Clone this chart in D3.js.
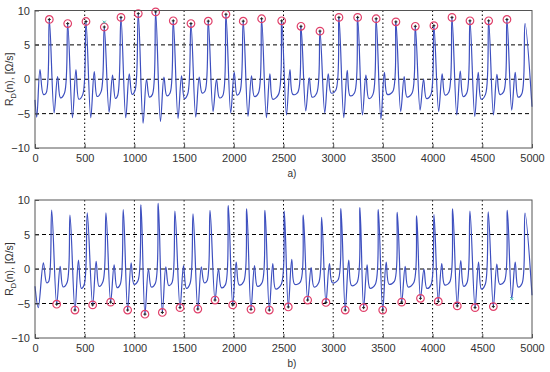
<!DOCTYPE html>
<meta charset="utf-8">
<head>
    <style>
        body { margin: 0; background: #fff; }
        text { font-family: "Liberation Sans", Arial, sans-serif; fill: #333; }
        .grid line { stroke: #000; stroke-width: 1; }
        .axis path, .axis line { stroke: #555; }
    </style>
</head>
<body>
    <svg width="550" height="372"></svg>
</body>
<script src="https://d3js.org/d3.v7.min.js"></script>
<script>

    // sample range and tick labels
    var xTicks = [0, 500, 1000, 1500, 2000, 2500, 3000, 3500, 4000, 4500, 5000];
    var yTicks = [-10, -5, 0, 5, 10];
    var xGrid = [500, 1000, 1500, 2000, 2500, 3000, 3500, 4000, 4500];
    var yGrid = [-5, 0, 5];

    // key points of the top trace (sample, value)
    var topTrace = [
        [0, -3.0], [18, -5.5], [50, 1.4], [84, -2.2], [112, -2.0],
        [144, 8.7], [192, -4.9], [227, 0.4], [256, -2.7], [297, -2.0],
        [329, 8.1], [377, -5.6], [412, 1.4], [441, -2.9], [481, -2.2],
        [513, 8.4], [561, -5.6], [596, 1.1], [625, -2.5], [665, -1.8],
        [697, 7.6], [745, -4.8], [780, 0.6], [809, -2.8], [833, -2.3],
        [865, 9.0], [913, -5.6], [948, 0.8], [977, -2.2], [1007, -1.6],
        [1039, 9.55], [1087, -6.4], [1122, 0.0], [1151, -2.6], [1182, -2.2],
        [1214, 9.8], [1262, -6.15], [1297, 0.3], [1326, -2.4], [1359, -2.0],
        [1391, 8.5], [1439, -5.7], [1474, 0.5], [1503, -2.8], [1537, -2.1],
        [1569, 8.1], [1617, -5.5], [1652, 0.3], [1681, -2.0], [1711, -1.7],
        [1743, 8.45], [1791, -4.7], [1826, 0.0], [1855, -2.7], [1889, -2.4],
        [1921, 9.45], [1969, -4.9], [2004, 1.0], [2033, -2.3], [2063, -1.8],
        [2095, 8.45], [2143, -5.4], [2178, 0.5], [2207, -2.5], [2248, -2.0],
        [2280, 8.8], [2328, -5.6], [2363, 0.8], [2392, -2.9], [2450, -2.2],
        [2482, 8.5], [2530, -5.2], [2565, 1.4], [2594, -2.2], [2644, -1.9],
        [2676, 7.7], [2724, -4.6], [2759, 0.2], [2788, -2.6], [2835, -2.0],
        [2867, 7.0], [2915, -4.9], [2950, 0.8], [2979, -2.0], [3026, -1.6],
        [3058, 9.0], [3106, -5.6], [3141, 1.3], [3170, -2.4], [3214, -2.0],
        [3246, 9.0], [3294, -5.2], [3329, 0.6], [3358, -2.8], [3400, -2.2],
        [3432, 8.8], [3480, -5.8], [3515, 1.0], [3544, -2.2], [3599, -1.8],
        [3631, 8.35], [3679, -4.7], [3714, 0.4], [3743, -2.6], [3794, -2.0],
        [3826, 7.7], [3874, -4.5], [3909, 0.0], [3938, -2.8], [3981, -2.3],
        [4013, 7.8], [4061, -4.7], [4096, 0.8], [4125, -2.3], [4163, -1.9],
        [4195, 9.0], [4243, -5.2], [4278, 1.2], [4307, -2.5], [4344, -2.0],
        [4376, 8.5], [4424, -5.4], [4459, 1.0], [4488, -2.9], [4532, -2.2],
        [4564, 8.5], [4612, -5.2], [4647, 0.7], [4676, -2.2], [4716, -1.8],
        [4748, 8.7], [4796, -4.5], [4831, 1.0], [4860, -2.6], [4898, -2.1],
        [4930, 8.1], [5000, -4.0]
    ];

    // detected maxima (circled)
    var topMarks = [
        [144, 8.7], [329, 8.1], [513, 8.4], [697, 7.6], [865, 9.0], [1039, 9.55],
        [1214, 9.8], [1391, 8.5], [1569, 8.1], [1743, 8.45], [1921, 9.45], [2095, 8.45],
        [2280, 8.8], [2482, 8.5], [2676, 7.7], [2867, 7.0], [3058, 9.0], [3246, 9.0],
        [3432, 8.8], [3631, 8.35], [3826, 7.7], [4013, 7.8], [4195, 9.0], [4376, 8.5],
        [4564, 8.5], [4748, 8.7]
    ];
    var topOther = [[697, 8.3]];

    // key points of the bottom trace
    var bottomTrace = [
        [0, -2.5], [33, -5.6], [84, 0.9], [117, -2.0], [138, -1.8],
        [168, 8.55], [218, -5.1], [253, 0.4], [282, -2.6], [322, -2.0],
        [352, 7.8], [402, -5.95], [437, 1.3], [466, -2.8], [496, -2.2],
        [526, 8.15], [580, -5.2], [615, 1.1], [644, -2.5], [684, -1.8],
        [714, 8.15], [761, -4.8], [796, 0.6], [825, -2.7], [858, -2.2],
        [888, 8.6], [932, -5.95], [967, 0.9], [996, -2.2], [1036, -1.7],
        [1066, 9.3], [1106, -6.55], [1141, 0.0], [1170, -2.6], [1210, -2.1],
        [1240, 9.5], [1281, -6.3], [1316, 0.3], [1345, -2.4], [1378, -2.0],
        [1408, 8.4], [1459, -5.6], [1494, 0.5], [1523, -2.8], [1560, -2.1],
        [1590, 8.0], [1638, -5.8], [1673, 0.3], [1702, -2.0], [1731, -1.7],
        [1761, 8.5], [1811, -4.5], [1846, 0.0], [1875, -2.7], [1915, -2.3],
        [1945, 9.2], [1989, -5.2], [2024, 1.0], [2053, -2.3], [2100, -1.8],
        [2130, 8.7], [2173, -5.85], [2208, 0.5], [2237, -2.5], [2284, -2.0],
        [2314, 8.5], [2357, -5.95], [2392, 0.8], [2421, -2.9], [2478, -2.2],
        [2508, 8.4], [2548, -5.5], [2583, 1.4], [2612, -2.2], [2669, -1.9],
        [2699, 7.8], [2743, -4.5], [2778, 0.2], [2807, -2.6], [2854, -2.0],
        [2884, 7.5], [2927, -4.85], [2962, 0.8], [2991, -2.0], [3048, -1.6],
        [3078, 8.75], [3121, -5.95], [3156, 1.3], [3185, -2.4], [3239, -2.0],
        [3269, 8.9], [3306, -5.6], [3341, 0.6], [3370, -2.8], [3424, -2.2],
        [3454, 8.6], [3498, -5.95], [3533, 1.0], [3562, -2.2], [3615, -1.8],
        [3645, 8.2], [3689, -4.8], [3724, 0.4], [3753, -2.6], [3810, -2.0],
        [3840, 7.7], [3878, -4.25], [3913, 0.0], [3942, -2.8], [3984, -2.3],
        [4014, 7.9], [4057, -4.7], [4092, 0.8], [4121, -2.3], [4172, -1.9],
        [4202, 8.7], [4248, -5.35], [4283, 1.2], [4312, -2.5], [4346, -2.0],
        [4376, 8.4], [4427, -5.6], [4462, 1.0], [4491, -2.9], [4530, -2.2],
        [4560, 8.3], [4611, -5.45], [4646, 0.7], [4675, -2.2], [4722, -1.8],
        [4752, 8.5], [4796, -4.3], [4831, 1.0], [4860, -2.6], [4900, -2.1],
        [4930, 8.1], [5000, -3.8]
    ];

    // detected minima (circled)
    var bottomMarks = [
        [218, -5.1], [402, -5.95], [580, -5.2], [761, -4.8], [932, -5.95], [1106, -6.55],
        [1281, -6.3], [1459, -5.6], [1638, -5.8], [1811, -4.5], [1989, -5.2], [2173, -5.85],
        [2357, -5.95], [2548, -5.5], [2743, -4.5], [2927, -4.85], [3121, -5.95], [3306, -5.6],
        [3498, -5.95], [3689, -4.8], [3878, -4.25], [4057, -4.7], [4248, -5.35], [4427, -5.6],
        [4611, -5.45]
    ];
    var bottomOther = [[4796, -4.3]];

    var svg = d3.select("svg");

    var x = d3.scaleLinear().domain([0, 5000]).range([35, 532]);

    function drawPanel(top, bottom, trace, marks, other, sub, caption) {
        var y = d3.scaleLinear().domain([-10, 10]).range([bottom, top]);
        var g = svg.append("g");

        var grid = g.append("g").attr("class", "grid");
        grid.selectAll(".h").data(yGrid).enter().append("line")
            .attr("x1", x(0)).attr("x2", x(5000))
            .attr("y1", function (d) { return y(d); })
            .attr("y2", function (d) { return y(d); })
            .attr("stroke-dasharray", "4,3");
        grid.selectAll(".v").data(xGrid).enter().append("line")
            .attr("x1", function (d) { return x(d); })
            .attr("x2", function (d) { return x(d); })
            .attr("y1", top).attr("y2", bottom)
            .attr("stroke-dasharray", "1.5,2.5");

        var line = d3.line()
            .x(function (d) { return x(d[0]); })
            .y(function (d) { return y(d[1]); })
            .curve(d3.curveCatmullRom.alpha(0.5));

        g.append("path")
            .datum(trace)
            .attr("d", line)
            .attr("fill", "none")
            .attr("stroke", "#3d4fbf")
            .attr("stroke-width", 1.2);

        var m = g.append("g").selectAll("g")
            .data(marks).enter().append("g")
            .attr("transform", function (d) { return "translate(" + x(d[0]) + "," + y(d[1]) + ")"; });
        m.append("circle")
            .attr("r", 3.8)
            .attr("fill", "none")
            .attr("stroke", "#e0406a")
            .attr("stroke-width", 1.2);
        m.append("path")
            .attr("d", "M-1.5,0H1.5M0,-1.5V1.5")
            .attr("stroke", "#222")
            .attr("stroke-width", 1);

        g.append("g").selectAll("path")
            .data(other).enter().append("path")
            .attr("transform", function (d) { return "translate(" + x(d[0]) + "," + y(d[1]) + ")"; })
            .attr("d", "M-1.5,-1.5L1.5,1.5M-1.5,1.5L1.5,-1.5")
            .attr("stroke", "#3cb8b0")
            .attr("stroke-width", 1);

        // box
        g.append("rect")
            .attr("x", x(0)).attr("y", top)
            .attr("width", x(5000) - x(0)).attr("height", bottom - top)
            .attr("fill", "none").attr("stroke", "#555");

        var xAxis = g.append("g").attr("class", "axis")
            .attr("transform", "translate(0," + bottom + ")")
            .call(d3.axisBottom(x).tickValues(xTicks).tickFormat(d3.format("d")).tickSize(-4).tickPadding(6));
        xAxis.select(".domain").remove();
        xAxis.selectAll("text").attr("font-size", 11).attr("fill", "#333");

        var yAxis = g.append("g").attr("class", "axis")
            .attr("transform", "translate(" + x(0) + ",0)")
            .call(d3.axisLeft(y).tickValues(yTicks).tickFormat(d3.format("d")).tickSize(-4).tickPadding(5));
        yAxis.select(".domain").remove();
        yAxis.selectAll("text").attr("font-size", 11).attr("fill", "#333");

        var lab = g.append("text")
            .attr("transform", "translate(13," + ((top + bottom) / 2) + ") rotate(-90)")
            .attr("text-anchor", "middle")
            .attr("font-size", 10.5)
            .attr("fill", "#444");
        lab.append("tspan").text("R");
        lab.append("tspan").attr("font-size", 7.5).attr("dy", 2.5).text(sub);
        lab.append("tspan").attr("dy", -2.5).text("(n), [\u03A9/s]");

        g.append("text")
            .attr("x", 292).attr("y", bottom + 29)
            .attr("text-anchor", "middle")
            .attr("font-size", 10)
            .attr("fill", "#444")
            .text(caption);
    }

    drawPanel(10.5, 148, topTrace, topMarks, topOther, "D", "a)");
    drawPanel(200, 338, bottomTrace, bottomMarks, bottomOther, "D", "b)");

</script>
